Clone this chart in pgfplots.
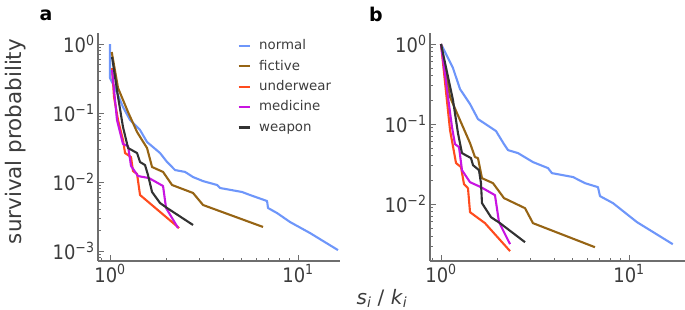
\documentclass[border=0pt]{standalone}
\usepackage{fontspec}
\setmainfont{DejaVu Sans Condensed}
\newfontfamily\regfont{DejaVu Sans}
\usepackage{pgfplots}
\pgfplotsset{compat=1.18}
\definecolor{cnormal}{RGB}{110,150,250}
\definecolor{cfictive}{RGB}{150,100,20}
\definecolor{cunder}{RGB}{255,75,30}
\definecolor{cmed}{RGB}{200,20,225}
\definecolor{cweap}{RGB}{50,50,50}
\definecolor{axgray}{RGB}{110,110,110}
\definecolor{tickgray}{RGB}{60,60,60}
\tikzset{ln/.style={line width=2.1bp, line join=round, mark=none}}
\pgfplotsset{
  panel/.style={
    scale only axis,
    axis x line*=bottom, axis y line*=left,
    axis line style={draw=axgray, line width=1.3bp, -},
    tick align=inside,
    major tick length=6bp, minor tick length=3.5bp,
    tick style={draw=axgray, line width=0.9bp},
    xtick={1,10}, xticklabels={10\textsuperscript{0},10\textsuperscript{1}},
    minor xtick={0.9,2,3,4,5,6,7,8,9,20},
    ticklabel style={font=\fontsize{20}{24}\selectfont, text=tickgray},
  }
}
\begin{document}
\begin{tikzpicture}
\useasboundingbox (0bp,0bp) rectangle (685bp,310bp);
% panel a
\begin{loglogaxis}[panel,
  at={(98bp,49bp)}, anchor=south west, width=242bp, height=228bp,
  xmin=0.863, xmax=16.71, ymin=0.000716, ymax=1.445,
  ytick={1,0.1,0.01,0.001},
  yticklabels={10\textsuperscript{0},10\textsuperscript{−1},10\textsuperscript{−2},10\textsuperscript{−3}},
  minor ytick={0.0008,0.0009,0.002,0.003,0.004,0.005,0.006,0.007,0.008,0.009,0.02,0.03,0.04,0.05,0.06,0.07,0.08,0.09,0.2,0.3,0.4,0.5,0.6,0.7,0.8,0.9},
  legend style={at={(0.576,0.974)}, anchor=north west, draw=none, fill=none,
    font=\regfont\fontsize{13.4}{16}\selectfont, text=tickgray, inner sep=0pt,
    row sep=6.9bp, nodes={text height=10.5bp, text depth=3bp, inner sep=0pt},
    /tikz/every odd column/.append style={column sep=8bp}},
  legend cell align=left,
  legend image code/.code={\draw[#1](0bp,0bp)--(11.5bp,0bp);},
]
\addplot[ln,cnormal] coordinates {(1,1)(1,0.321)(1.063,0.230)(1.172,0.122)(1.278,0.0792)(1.444,0.0567)(1.573,0.0380)(1.845,0.0263)(2.010,0.0195)(2.217,0.0149)(2.506,0.0140)(2.764,0.0118)(3.124,0.0103)(3.71,0.00905)(3.85,0.00818)(5.04,0.00716)(5.55,0.00648)(6.84,0.00530)(6.92,0.00420)(7.73,0.00355)(9.06,0.00263)(11.58,0.00182)(16.3,0.00103)};
\addlegendentry{normal}
\addplot[ln,cfictive] coordinates {(1.021,0.766)(1.103,0.230)(1.247,0.103)(1.392,0.0531)(1.573,0.0311)(1.673,0.0165)(1.914,0.0140)(2.137,0.00905)(2.764,0.00693)(3.124,0.00464)(6.51,0.00223)};
\addlegendentry{fictive}
\addplot[ln,cunder] coordinates {(1.025,0.449)(1.050,0.171)(1.103,0.0792)(1.172,0.0406)(1.202,0.0263)(1.293,0.0230)(1.325,0.0144)(1.392,0.0131)(1.444,0.00648)(2.33,0.00215)};
\addlegendentry{underwear}
\addplot[ln,cmed] coordinates {(1.025,0.420)(1.089,0.0792)(1.172,0.0355)(1.247,0.0332)(1.293,0.0171)(1.409,0.0122)(1.612,0.0114)(1.914,0.00875)(1.986,0.0042)(2.30,0.00215)};
\addlegendentry{medicine}
\addplot[ln,cweap] coordinates {(1.025,0.648)(1.103,0.171)(1.172,0.0627)(1.247,0.0311)(1.392,0.0263)(1.444,0.0195)(1.535,0.0176)(1.592,0.0126)(1.673,0.00716)(1.845,0.00496)(2.010,0.0042)(2.764,0.00238)};
\addlegendentry{weapon}
\end{loglogaxis}
% panel b
\begin{loglogaxis}[panel,
  at={(430bp,49bp)}, anchor=south west, width=255bp, height=228bp,
  xmin=0.874, xmax=19.86, ymin=0.00195, ymax=1.372,
  ytick={1,0.1,0.01},
  yticklabels={10\textsuperscript{0},10\textsuperscript{−1},10\textsuperscript{−2}},
  minor ytick={0.002,0.003,0.004,0.005,0.006,0.007,0.008,0.009,0.02,0.03,0.04,0.05,0.06,0.07,0.08,0.09,0.2,0.3,0.4,0.5,0.6,0.7,0.8,0.9},
]
\addplot[ln,cnormal] coordinates {(1,1)(1.158,0.501)(1.262,0.274)(1.427,0.178)(1.573,0.1155)(1.962,0.0818)(2.163,0.0562)(2.272,0.0473)(2.568,0.0434)(3.085,0.0335)(3.71,0.0282)(3.89,0.0244)(5.04,0.0218)(5.83,0.0183)(6.84,0.0163)(7.01,0.0126)(8.22,0.0103)(11.03,0.00596)(17.1,0.00316)};
\addplot[ln,cfictive] coordinates {(1,1)(1.117,0.2176)(1.262,0.112)(1.427,0.0579)(1.516,0.0387)(1.573,0.0376)(1.652,0.0211)(1.890,0.0183)(2.163,0.0119)(2.798,0.00891)(3.085,0.00579)(6.59,0.0029)};
\addplot[ln,cunder] coordinates {(1,1)(1.117,0.0841)(1.202,0.0326)(1.278,0.029)(1.325,0.0178)(1.392,0.0158)(1.427,0.00794)(1.714,0.00579)(2.33,0.00259)};
\addplot[ln,cmed] coordinates {(1,1)(1.144,0.0917)(1.187,0.0562)(1.247,0.0516)(1.293,0.0266)(1.427,0.0188)(1.632,0.0163)(1.937,0.01296)(2.035,0.00596)(2.33,0.00316)};
\addplot[ln,cweap] coordinates {(1,1)(1.158,0.1995)(1.231,0.0772)(1.293,0.0434)(1.444,0.0376)(1.480,0.0307)(1.592,0.0266)(1.632,0.0183)(1.652,0.0103)(1.845,0.00688)(2.060,0.00579)(2.798,0.00335)};
\end{loglogaxis}
% labels
\node[font=\regfont\bfseries\fontsize{19}{22}\selectfont, text=black] at (46bp,295bp) {a};
\node[font=\regfont\bfseries\fontsize{19}{22}\selectfont, text=black] at (376bp,296bp) {b};
\node[rotate=90, anchor=base, font=\regfont\fontsize{21.5}{26}\selectfont, text=tickgray] at (21.7bp,168.5bp) {survival probability};
\node[anchor=base, font=\regfont\fontsize{20}{24}\selectfont, text=tickgray] at (382bp,5.5bp) {\textit{s}\textsubscript{\textit{i}} / \textit{k}\textsubscript{\textit{i}}};
\end{tikzpicture}
\end{document}
